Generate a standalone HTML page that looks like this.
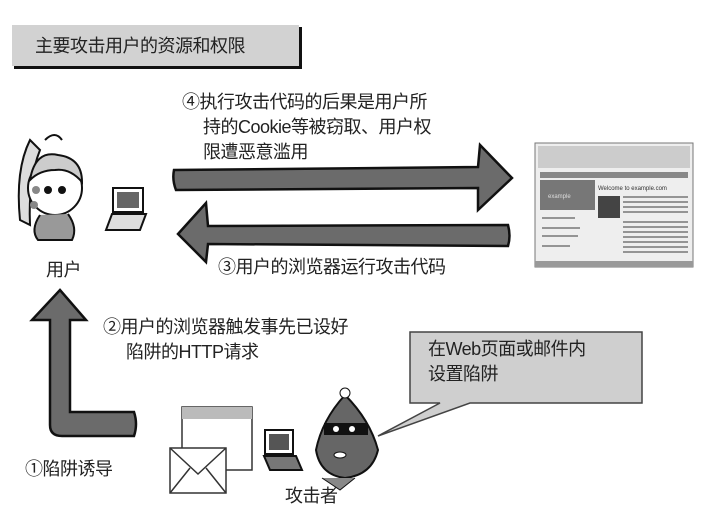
<!DOCTYPE html>
<html><head><meta charset="utf-8">
<style>
html,body{margin:0;padding:0;background:#fff;}
body{width:717px;height:512px;overflow:hidden;position:relative;font-family:"Liberation Sans","Noto Sans CJK SC",sans-serif;color:#222;}
.t{position:absolute;font-size:18px;line-height:25px;white-space:nowrap;letter-spacing:-0.5px;}
</style></head><body>
<svg width="717" height="512" style="position:absolute;left:0;top:0">
<!-- title box -->
<rect x="14" y="27" width="288" height="42" fill="#111"/>
<rect x="12" y="25" width="287" height="41" fill="#d2d2d2"/>
<!-- top arrow right -->
<path d="M174,170 Q172,180 176,190 L478,188 L478,210 L512,178 L480,145 L478,167 Z" fill="#6b6b6b" stroke="#111" stroke-width="2.5"/>
<!-- bottom arrow left -->
<path d="M508,225 L208,226 L206,203 L178,234 L206,262 L208,244 L508,246 Q511,236 508,225 Z" fill="#6b6b6b" stroke="#111" stroke-width="2.5"/>
<!-- up L arrow -->
<path d="M50,320 L50,425 Q50,436 62,436 L134,436 Q138,424 134,412 L70,412 L70,320 L86,320 L60,290 L32,320 Z" fill="#6b6b6b" stroke="#111" stroke-width="2.5"/>
<!-- browser screenshot -->
<rect x="535" y="143" width="158" height="124" fill="#eee" stroke="#777"/>
<rect x="538" y="146" width="152" height="22" fill="#ccc"/>
<rect x="540" y="172" width="148" height="6" fill="#888"/>
<rect x="540" y="180" width="55" height="30" fill="#777"/>
<text x="548" y="198" font-size="6" fill="#ddd">example</text>
<text x="598" y="190" font-size="6" fill="#333">Welcome to example.com</text>
<rect x="598" y="196" width="22" height="22" fill="#444"/>
<g stroke="#777" stroke-width="1.5">
<line x1="623" y1="197" x2="688" y2="197"/><line x1="623" y1="202" x2="688" y2="202"/><line x1="623" y1="207" x2="688" y2="207"/><line x1="623" y1="212" x2="688" y2="212"/>
<line x1="623" y1="222" x2="688" y2="222"/><line x1="623" y1="227" x2="688" y2="227"/><line x1="623" y1="232" x2="688" y2="232"/><line x1="623" y1="237" x2="688" y2="237"/><line x1="623" y1="242" x2="688" y2="242"/><line x1="623" y1="247" x2="688" y2="247"/><line x1="623" y1="252" x2="688" y2="252"/>
<line x1="542" y1="218" x2="575" y2="218"/><line x1="542" y1="228" x2="580" y2="228"/><line x1="542" y1="236" x2="578" y2="236"/><line x1="542" y1="246" x2="570" y2="246"/>
</g>
<rect x="535" y="261" width="158" height="6" fill="#999"/>
<!-- user figure -->
<g stroke="#111" stroke-width="2" fill="none">
<path d="M30,140 Q15,170 20,220 L30,225 Q28,180 40,150 Z" fill="#ddd"/>
<circle cx="55" cy="188" r="27" fill="#fff"/>
<path d="M30,180 Q35,150 58,155 Q82,158 82,182 Q70,168 55,170 Q40,170 30,180 Z" fill="#ccc"/>
<circle cx="48" cy="190" r="3" fill="#111"/><circle cx="62" cy="190" r="3" fill="#111"/>
<path d="M40,215 Q30,230 38,240 L72,240 Q78,228 68,214" fill="#999"/>
<path d="M45,140 Q55,130 62,140" />
</g>
<circle cx="36" cy="190" r="4" fill="#888"/><circle cx="34" cy="205" r="4" fill="#888"/>
<!-- user laptop -->
<rect x="113" y="188" width="30" height="24" fill="#fff" stroke="#111" stroke-width="2"/>
<rect x="117" y="192" width="22" height="16" fill="#666"/>
<path d="M112,214 L146,214 L140,230 L106,230 Z" fill="#ddd" stroke="#111" stroke-width="2"/>
<!-- callout -->
<path d="M410,332 L642,332 L642,403 L470,403 L378,436 L440,403 L410,403 Z" fill="#cfcfcf" stroke="#444" stroke-width="1.5"/>
<!-- window -->
<rect x="182" y="407" width="70" height="63" fill="#fff" stroke="#333" stroke-width="1.5"/>
<rect x="182" y="407" width="70" height="12" fill="#bbb"/>
<!-- envelope -->
<rect x="170" y="448" width="56" height="45" fill="#fff" stroke="#333" stroke-width="1.5"/>
<path d="M170,448 L198,474 L226,448 M170,493 L190,468 M226,493 L206,468" fill="none" stroke="#333" stroke-width="1.5"/>
<!-- attacker laptop -->
<rect x="265" y="430" width="28" height="24" fill="#fff" stroke="#111" stroke-width="2"/>
<rect x="269" y="434" width="20" height="16" fill="#555"/>
<path d="M264,456 L296,456 L302,470 L270,470 Z" fill="#777" stroke="#111" stroke-width="2"/>
<!-- attacker -->
<path d="M345,395 Q322,420 316,450 Q320,475 345,478 Q372,475 378,450 Q370,420 345,395 Z" fill="#666" stroke="#111" stroke-width="2"/>
<rect x="324" y="423" width="44" height="12" fill="#111"/>
<circle cx="336" cy="429" r="3" fill="#fff"/><circle cx="352" cy="429" r="3" fill="#fff"/>
<ellipse cx="340" cy="455" rx="6" ry="3" fill="#fff" stroke="#111"/>
<circle cx="345" cy="393" r="5" fill="#fff" stroke="#111"/>
<path d="M322,478 L340,490 L355,478" fill="#888" stroke="#111"/>
</svg>
<div class="t" style="left:35px;top:34px;font-size:18px;">主要攻击用户的资源和权限</div>
<div class="t" style="left:182px;top:90px;">④执行攻击代码的后果是用户所</div>
<div class="t" style="left:203px;top:115px;">持的Cookie等被窃取、用户权</div>
<div class="t" style="left:203px;top:140px;">限遭恶意滥用</div>
<div class="t" style="left:218px;top:255px;">③用户的浏览器运行攻击代码</div>
<div class="t" style="left:46px;top:258px;">用户</div>
<div class="t" style="left:103px;top:315px;">②用户的浏览器触发事先已设好</div>
<div class="t" style="left:126px;top:340px;">陷阱的HTTP请求</div>
<div class="t" style="left:428px;top:337px;">在Web页面或邮件内</div>
<div class="t" style="left:428px;top:362px;">设置陷阱</div>
<div class="t" style="left:25px;top:457px;">①陷阱诱导</div>
<div class="t" style="left:285px;top:484px;">攻击者</div>
</body></html>
